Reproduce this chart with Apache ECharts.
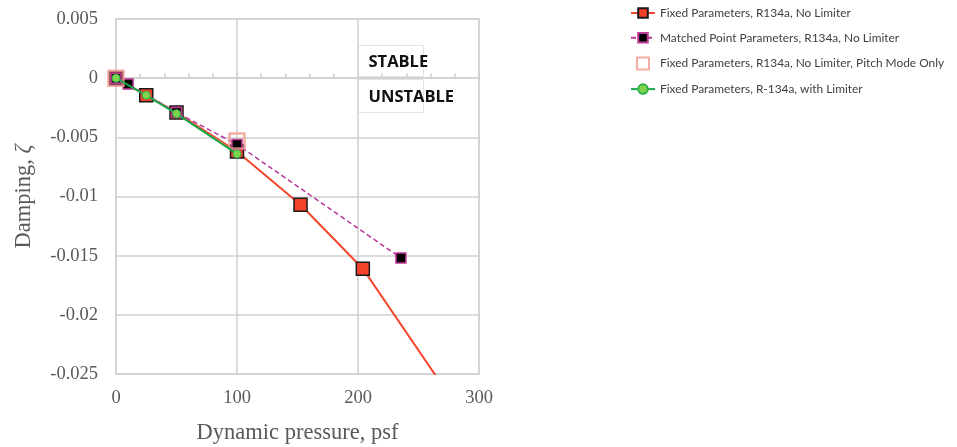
<!DOCTYPE html>
<html>
<head>
<meta charset="utf-8">
<script src="https://cdn.jsdelivr.net/npm/echarts@6/dist/echarts.min.js"></script>
<style>
  html, body { margin: 0; padding: 0; background: #fff; }
  #chart { width: 957px; height: 447px; }
</style>
</head>
<body>
<div id="chart"></div>
<script>
// Damping vs dynamic pressure for the four parameter/limiter cases
const fixedNoLimiter = [[0, 0], [25, -0.00145], [50, -0.0029], [100, -0.0062], [152.5, -0.0107], [204, -0.0161], [290, -0.029]];
const matchedNoLimiter = [[0, 0], [10, -0.0005], [50, -0.0029], [100, -0.0056], [235.5, -0.0152]];
const pitchModeOnly = [[0, 0], [100, -0.0053]];
const fixedWithLimiter = [[0, 0], [25, -0.00145], [50, -0.003], [100, -0.0064]];

const seriesNames = [
  'Fixed Parameters, R134a, No Limiter',
  'Matched Point Parameters, R134a, No Limiter',
  'Fixed Parameters, R134a, No Limiter, Pitch Mode Only',
  'Fixed Parameters, R-134a, with Limiter'
];

const xTicks = [0, 100, 200, 300];
const yTicks = [0.005, 0, -0.005, -0.01, -0.015, -0.02, -0.025];

const gridColor = '#d0d0d0';
const labelColor = '#595959';
const serif = '"Liberation Serif", "Times New Roman", serif';

const chart = echarts.init(document.getElementById('chart'), null, { renderer: 'canvas' });

function fmtY(v) {
  if (Math.abs(v) < 1e-12) return '0';
  return String(parseFloat(v.toFixed(4)));
}

chart.setOption({
  animation: false,
  backgroundColor: '#fff',
  grid: {
    left: 116, right: 478, top: 19, bottom: 73,
    outerBoundsMode: 'none',
    show: true, borderColor: gridColor, borderWidth: 1.5
  },
  legend: {
    orient: 'vertical',
    left: 630, top: 7, padding: 0,
    itemWidth: 24, itemHeight: 12, itemGap: 12.7,
    textStyle: { fontFamily: 'Lato, "Open Sans", sans-serif', fontSize: 11.9, color: '#404040' },
    data: [
      { name: seriesNames[0] },
      { name: seriesNames[1] },
      { name: seriesNames[2], icon: 'path://M0,0h10v10h-10z' },
      { name: seriesNames[3] }
    ]
  },
  xAxis: [
    {
      type: 'value',
      min: xTicks[0], max: xTicks[xTicks.length - 1], interval: 100,
      position: 'bottom',
      name: 'Dynamic pressure, psf',
      nameLocation: 'middle', nameGap: 48,
      nameTextStyle: { fontFamily: serif, fontSize: 22.5, color: labelColor },
      axisLine: { show: false, onZero: false },
      axisTick: { show: false },
      axisLabel: { fontFamily: serif, fontSize: 18.5, color: labelColor, margin: 15 },
      splitLine: { show: true, lineStyle: { color: gridColor, width: 1.5 } }
    },
    {
      // axis drawn along zeta = 0 carrying the minor tick marks
      type: 'value',
      min: xTicks[0], max: xTicks[xTicks.length - 1], interval: 20,
      position: 'top',
      axisLine: { show: true, onZero: true, lineStyle: { color: gridColor, width: 1.5 } },
      axisTick: { show: true, inside: false, length: 5, lineStyle: { color: gridColor, width: 1.5 } },
      axisLabel: { show: false },
      splitLine: { show: false }
    }
  ],
  yAxis: {
    type: 'value',
    min: yTicks[yTicks.length - 1], max: yTicks[0], interval: 0.005,
    name: '{n|Damping, }{z|ζ}',
    nameLocation: 'middle', nameGap: 80, nameRotate: 90,
    nameTextStyle: {
      rich: {
        n: { fontFamily: serif, fontSize: 22.5, color: labelColor },
        z: { fontFamily: serif, fontSize: 22.5, fontStyle: 'italic', color: labelColor }
      }
    },
    axisLine: { show: false },
    axisTick: { show: false },
    axisLabel: { fontFamily: serif, fontSize: 18.5, color: labelColor, margin: 18, formatter: fmtY },
    splitLine: { show: true, lineStyle: { color: gridColor, width: 1.5 } }
  },
  series: [
    {
      name: seriesNames[0],
      type: 'line',
      data: fixedNoLimiter,
      symbol: 'rect', symbolSize: 13,
      lineStyle: { color: '#f4472e', width: 2 },
      itemStyle: { color: '#f4412a', borderColor: '#1a1a1a', borderWidth: 1.5 },
      clip: true, z: 2
    },
    {
      name: seriesNames[1],
      type: 'line',
      data: matchedNoLimiter,
      symbol: 'rect', symbolSize: 10,
      lineStyle: { color: '#b8349a', width: 1.5, type: [5, 3] },
      itemStyle: { color: '#000000', borderColor: '#c03a98', borderWidth: 1.5 },
      clip: true, z: 3
    },
    {
      name: seriesNames[2],
      type: 'scatter',
      data: pitchModeOnly,
      symbol: 'rect', symbolSize: 15,
      itemStyle: { color: 'rgba(255,255,255,0)', borderColor: '#f2998f', borderWidth: 2.5 },
      z: 4
    },
    {
      name: seriesNames[3],
      type: 'line',
      data: fixedWithLimiter,
      symbol: 'circle', symbolSize: 8,
      lineStyle: { color: '#1aa94a', width: 2 },
      itemStyle: { color: '#7fd24c', borderColor: '#2fb14a', borderWidth: 1 },
      clip: true, z: 5
    }
  ],
  graphic: [
    {
      type: 'group', left: 358, top: 45, z: 10,
      children: [
        { type: 'rect', shape: { x: 0, y: 0, width: 65, height: 31 }, style: { fill: '#fff', stroke: '#e2e2e2', lineWidth: 1 } },
        { type: 'text', x: 10, y: 17, style: { text: 'STABLE', font: 'bold 16.5px "Open Sans", sans-serif', fill: '#111', verticalAlign: 'middle' } }
      ]
    },
    {
      type: 'group', left: 358, top: 79, z: 10,
      children: [
        { type: 'rect', shape: { x: 0, y: 0, width: 65, height: 33 }, style: { fill: '#fff', stroke: '#e2e2e2', lineWidth: 1 } },
        { type: 'text', x: 10, y: 18, style: { text: 'UNSTABLE', font: 'bold 16.5px "Open Sans", sans-serif', fill: '#111', verticalAlign: 'middle' } }
      ]
    }
  ]
});
</script>
</body>
</html>
